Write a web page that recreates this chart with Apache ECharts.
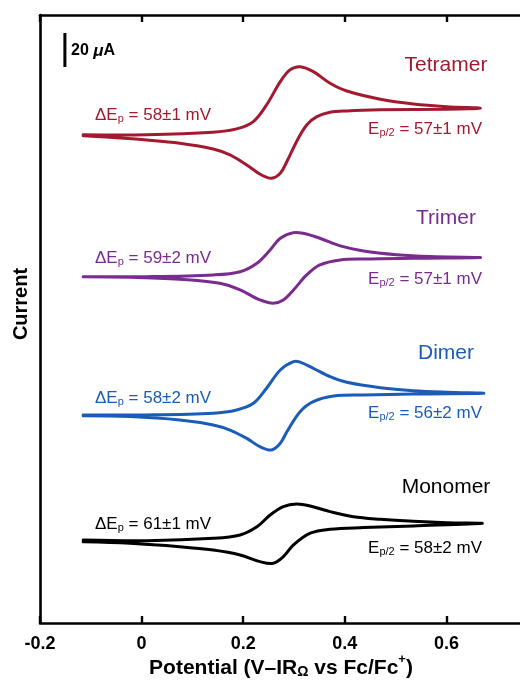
<!DOCTYPE html>
<html>
<head>
<meta charset="utf-8">
<script src="https://cdn.jsdelivr.net/npm/echarts@6/dist/echarts.min.js"></script>
<style>html,body{margin:0;padding:0;background:#fff}#c{width:520px;height:689px}</style>
</head>
<body>
<div id="c"></div>
<script>
// Potential (V) vs current (µA, traces stacked with vertical offset)
var tetramerForward = [[-0.115,287.1],[0.010,287.1],[0.140,288.6],[0.187,290.6],[0.220,294.9],[0.246,304.7],[0.273,318.4],[0.292,325.3],[0.312,327.2],[0.338,324.3],[0.371,317.5],[0.404,312.9],[0.470,308.1],[0.535,305.3],[0.601,303.7],[0.667,302.8]];
var tetramerReverse = [[0.667,302.8],[0.601,302.2],[0.470,301.8],[0.404,301.2],[0.371,300.4],[0.345,297.8],[0.325,292.9],[0.305,283.1],[0.286,271.4],[0.273,264.5],[0.256,261.6],[0.236,263.5],[0.207,269.4],[0.174,275.3],[0.141,278.8],[0.075,282.2],[0.010,284.1],[-0.056,285.5],[-0.115,286.6]];
var trimerForward = [[-0.115,203.7],[0.010,203.7],[0.141,204.7],[0.194,206.6],[0.227,211.6],[0.253,219.4],[0.273,226.3],[0.299,229.6],[0.318,229.2],[0.351,226.3],[0.391,221.8],[0.437,218.8],[0.502,216.6],[0.568,215.5],[0.667,214.9]];
var trimerReverse = [[0.667,214.9],[0.535,214.5],[0.437,214.1],[0.391,213.5],[0.351,210.6],[0.325,204.7],[0.299,195.9],[0.279,190.0],[0.259,188.1],[0.233,190.0],[0.194,195.9],[0.154,199.8],[0.075,202.2],[-0.023,203.4],[-0.115,203.7]];
var dimerForward = [[-0.115,122.4],[0.010,122.4],[0.141,123.4],[0.187,125.3],[0.220,129.2],[0.246,138.1],[0.273,148.8],[0.299,153.7],[0.312,153.4],[0.338,149.8],[0.371,144.9],[0.404,141.6],[0.470,138.4],[0.535,136.6],[0.601,135.7],[0.673,135.1]];
var dimerReverse = [[0.673,135.1],[0.535,134.7],[0.437,134.1],[0.378,133.5],[0.338,130.2],[0.312,124.3],[0.286,112.5],[0.273,105.7],[0.256,101.8],[0.233,103.7],[0.207,108.6],[0.174,113.5],[0.141,116.5],[0.075,119.4],[-0.023,121.4],[-0.115,121.9]];
var monomerForward = [[-0.115,48.8],[0.010,48.4],[0.141,49.8],[0.194,51.8],[0.227,56.6],[0.253,63.5],[0.279,68.4],[0.305,70.0],[0.332,68.8],[0.371,65.5],[0.417,62.5],[0.470,61.0],[0.535,59.8],[0.601,59.0],[0.670,58.6]];
var monomerReverse = [[0.670,58.6],[0.535,57.1],[0.437,56.1],[0.371,55.1],[0.332,52.8],[0.299,45.9],[0.279,39.0],[0.259,35.1],[0.233,36.1],[0.194,40.0],[0.141,42.9],[0.075,44.9],[-0.023,46.9],[-0.115,47.8]];
var scaleBar = [[-0.151,347],[-0.151,327]];
var xTicks = [-0.2, 0, 0.2, 0.4, 0.6, 0.8];
var names = ['Tetramer','Trimer','Dimer','Monomer'];
var deltaEp = ['58±1 mV','59±2 mV','58±2 mV','61±1 mV'];
var halfEp = ['57±1 mV','57±1 mV','56±2 mV','58±2 mV'];
var colors = ['#A3192F','#7A2B8E','#1A5CB8','#000000'];

var FONT = '"Liberation Sans", Arial, Helvetica, sans-serif';
var traces = [
  tetramerForward.concat(tetramerReverse.slice(1)),
  trimerForward.concat(trimerReverse.slice(1)),
  dimerForward.concat(dimerReverse.slice(1)),
  monomerForward.concat(monomerReverse.slice(1))
];
var series = traces.map(function(d,i){
  return {type:'custom', name:names[i], coordinateSystem:'cartesian2d', data:d, encode:{x:0, y:1}, animation:false, z:3,
    renderItem:function(params, api){
      if (params.dataIndex !== 0) return null;
      var pts = d.map(function(p){ return api.coord(p); });
      return {type:'polyline', shape:{points:pts, smooth:0.35},
        style:{stroke:colors[i], lineWidth:3, fill:null, lineJoin:'round', lineCap:'round'}};
    }};
});
series.push({type:'line', data:scaleBar, showSymbol:false, symbol:'none', lineStyle:{color:'#000', width:3}, animation:false});

// label layout (pixels)
var nameY = [65,218,353,487];
var dY = [113,256,396,522];
var hY = [127,277,411,546];
var graphics = [];
function sub(txt, s, rest, color, x, y, align){
  return {type:'text', x:x, y:y, z:10, style:{
    text:'{a|'+txt+'}{s|'+s+'}{a|'+rest+'}', align:align, verticalAlign:'middle',
    rich:{a:{fontSize:17, fontFamily:FONT, fill:color, lineHeight:22, verticalAlign:'bottom'},
          s:{fontSize:11, fontFamily:FONT, fill:color, lineHeight:11, verticalAlign:'bottom'}}}};
}
for (var i=0;i<4;i++){
  graphics.push({type:'text', x:446, y:nameY[i], z:10, style:{text:names[i], fontSize:21, fontFamily:FONT, fill:colors[i], align:'center', verticalAlign:'middle'}});
  graphics.push(sub('ΔE','p',' = '+deltaEp[i], colors[i], 95, dY[i], 'left'));
  graphics.push(sub('E','p/2',' = '+halfEp[i], colors[i], 482, hY[i], 'right'));
}
graphics.push({type:'text', x:71, y:51, z:10, style:{text:'{b|20 }{m|μ}{b|A}', align:'left', verticalAlign:'middle',
  rich:{b:{fontSize:16, fontWeight:'bold', fontFamily:FONT, fill:'#000'}, m:{fontSize:17, fontWeight:'bold', fontStyle:'italic', fontFamily:FONT, fill:'#000'}}}});
graphics.push({type:'text', x:281, y:666, z:10, style:{text:'{b|Potential (V–IR}{o|Ω}{b| vs Fc/Fc}{p|+}{b|)}', align:'center', verticalAlign:'middle',
  rich:{b:{fontSize:21, fontWeight:'bold', fontFamily:FONT, fill:'#000', lineHeight:26, verticalAlign:'bottom'},
        o:{fontSize:14, fontWeight:'bold', fontFamily:FONT, fill:'#000', lineHeight:12, verticalAlign:'bottom'},
        p:{fontSize:13, fontWeight:'bold', fontFamily:FONT, fill:'#000', lineHeight:14, verticalAlign:'top'}}}});
graphics.push({type:'text', x:21, y:304, rotation:Math.PI/2, z:10, style:{text:'Current', fontSize:20, fontWeight:'bold', fontFamily:FONT, fill:'#000', align:'center', verticalAlign:'middle'}});

var chart = echarts.init(document.getElementById('c'), null, {renderer:'canvas'});
var axisCommon = {axisLine:{show:true, onZero:false, lineStyle:{color:'#000', width:2.6}}, splitLine:{show:false}};
chart.setOption({
  animation:false,
  backgroundColor:'#fff',
  grid:{left:40, width:508, top:15, height:608, containLabel:false, outerBoundsMode:'none'},
  xAxis:[
    Object.assign({type:'value', position:'bottom', min:xTicks[0], max:xTicks[xTicks.length-1], interval:0.2,
      axisTick:{show:true, inside:true, length:7, lineStyle:{color:'#000', width:2.4}},
      axisLabel:{color:'#000', fontSize:18, fontWeight:'bold', fontFamily:FONT, margin:12,
        formatter:function(v){ return v===0 ? '0' : (Math.round(v*10)/10).toString(); }}}, axisCommon),
    Object.assign({type:'value', position:'top', min:xTicks[0], max:xTicks[xTicks.length-1], interval:0.2,
      axisTick:{show:true, inside:true, length:7, lineStyle:{color:'#000', width:2.4}}, axisLabel:{show:false}}, axisCommon)
  ],
  yAxis:[
    Object.assign({type:'value', position:'left', min:0, max:357.6, axisTick:{show:false}, axisLabel:{show:false}}, axisCommon),
    Object.assign({type:'value', position:'right', min:0, max:357.6, axisTick:{show:false}, axisLabel:{show:false}}, axisCommon)
  ],
  series:series,
  graphic:graphics
});
</script>
</body>
</html>
